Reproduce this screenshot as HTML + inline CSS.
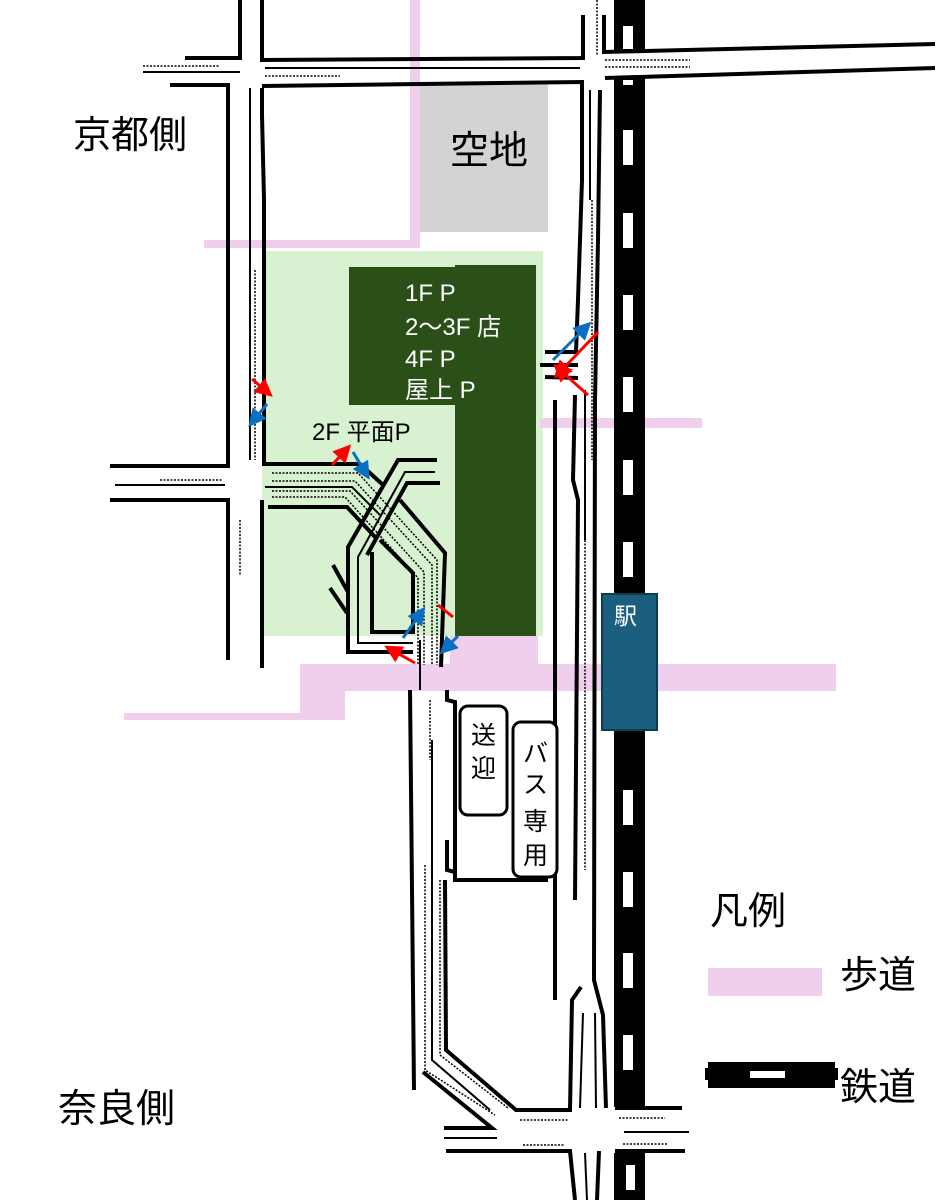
<!DOCTYPE html>
<html><head><meta charset="utf-8"><style>
html,body{margin:0;padding:0;background:#fff;}
svg{display:block}
text{font-family:"Liberation Sans","Noto Sans CJK JP",sans-serif;}
</style></head><body>
<svg width="949" height="1200" viewBox="0 0 949 1200" xmlns="http://www.w3.org/2000/svg">
<defs>
<marker id="ar" markerWidth="6" markerHeight="6" refX="3" refY="3" orient="auto"><path d="M0,0 L6,3 L0,6 z" fill="#f00"/></marker>
<marker id="ab" markerWidth="6" markerHeight="6" refX="3" refY="3" orient="auto"><path d="M0,0 L6,3 L0,6 z" fill="#0a6fc2"/></marker>
</defs>
<rect x="420" y="84" width="128" height="148" fill="#d3d3d3"/>
<text x="450" y="164" font-size="39">空地</text>
<rect x="262" y="251" width="281" height="385" fill="#d8f1d0"/>
<g fill="#f0cfec">
<rect x="410" y="0" width="10" height="248"/>
<rect x="204" y="240" width="216" height="8"/>
<rect x="540" y="418" width="162" height="10"/>
<rect x="300" y="664" width="536" height="27"/>
<rect x="300" y="664" width="45" height="56"/>
<rect x="124" y="713" width="221" height="7"/>
<rect x="450" y="636" width="88" height="30"/>
</g>
<path d="M349,267 L455,267 L455,265 L536,265 L536,636 L455,636 L455,405 L349,405 Z" fill="#2a5018"/>
<g fill="#fff" font-size="24">
<text x="405" y="301">1F P</text>
<text x="405" y="335">2～3F 店</text>
<text x="405" y="367">4F P</text>
<text x="405" y="398">屋上 P</text>
</g>
<text x="312" y="440" font-size="24">2F 平面P</text>
<g fill="#000">
<rect x="614" y="0" width="31" height="50"/>
<rect x="614" y="78" width="31" height="1029"/>
<rect x="614" y="1153" width="31" height="47"/>
</g>
<g fill="#fff">
<rect x="623" y="26" width="10" height="23"/>
<rect x="623" y="80" width="10" height="5"/>
<rect x="623" y="130" width="10" height="35"/>
<rect x="623" y="213" width="10" height="35"/>
<rect x="623" y="295" width="10" height="35"/>
<rect x="623" y="377" width="10" height="35"/>
<rect x="623" y="460" width="10" height="35"/>
<rect x="623" y="542" width="10" height="35"/>
<rect x="623" y="790" width="10" height="35"/>
<rect x="623" y="872" width="10" height="35"/>
<rect x="623" y="953" width="10" height="35"/>
<rect x="623" y="1035" width="10" height="35"/>
<rect x="626" y="1165" width="9" height="25"/>
</g>
<rect x="602" y="594" width="55" height="136" fill="#1a5f80" stroke="#0f3a50" stroke-width="2"/>
<text x="614" y="624" font-size="23" fill="#fff">駅</text>
<g fill="none" stroke="#000" stroke-width="4">
<polyline points="240,0 240,58 185,58"/>
<polyline points="262,0 262,60 583,58 583,15"/>
<polyline points="604,15 604,52 935,44"/>
<polyline points="170,85 228,85 228,466 110,466"/>
<polyline points="262,88 262,115 264,200 264,464 360,464 382,484"/>
<polyline points="262,86 582,82 582,180 578,300 576,352 545,352"/>
<polyline points="605,78 935,68"/>
<polyline points="600,90 598,240 595,400 594,980 603,1015 606,1108"/>
<polyline points="110,500 228,500 228,660"/>
<polyline points="262,500 262,668"/>
<polyline points="268,507 347,507 376,538"/>
<polyline points="400,500 445,553 441,667"/>
<polyline points="437,460 398,460 348,547 348,652 413,652"/>
<polyline points="440,483 407,483 367,555"/>
<polyline points="380,540 413,573 413,632 372,632 372,552"/>
<polyline points="333,565 348,592"/>
<polyline points="330,588 347,613"/>
<polyline points="545,377 578,378"/>
<polyline points="540,365 578,365"/>
<polyline points="575,395 573,480 578,500 575,900"/>
<polyline points="555,400 555,1000"/>
<!-- lower central road -->
<polyline points="410,690 414,1090"/>
<polyline points="447,690 447,700 455,702 455,880 548,880"/>
<polyline points="447,840 447,870 455,872"/>
<polyline points="445,880 446,1050 516,1110 570,1110 572,1000 581,987"/>
<polyline points="423,1072 492,1128 444,1128"/>
<polyline points="446,1151 570,1151 575,1200"/>
<polyline points="615,1108 682,1108"/>
<polyline points="615,1151 685,1151"/>
<polyline points="599,1151 597,1200"/>
</g>
<g fill="none" stroke="#000" stroke-width="2">
<polyline points="115,485 225,485"/>
<polyline points="265,487 352,487 380,515"/>
<polyline points="435,472 405,472 358,557 358,643 413,643"/>
<polyline points="585,390 585,540"/>
<polyline points="590,90 590,200"/>
<polyline points="432,740 432,1060 490,1110"/>
<polyline points="420,640 420,690"/>
<polyline points="583,1013 580,1108"/>
<polyline points="595,1013 596,1108"/>
<polyline points="250,88 250,460"/>
<polyline points="143,72 240,72"/>
<polyline points="265,68 580,68"/>
<polyline points="444,1138 497,1138"/>
<polyline points="624,1132 689,1132"/>
<polyline points="585,1153 587,1200"/>
</g>
<g fill="none" stroke="#000" stroke-width="1.5" stroke-dasharray="2,1.5">
<polyline points="143,66 220,66"/>
<polyline points="265,76 340,76"/>
<polyline points="605,60 690,60"/>
<polyline points="605,67 690,67"/>
<polyline points="597,0 597,55"/>
<polyline points="255,270 255,460"/>
<polyline points="240,520 240,575"/>
<polyline points="160,480 222,480"/>
<polyline points="272,473 358,473 437,560 437,665"/>
<polyline points="272,481 355,481 432,565 432,665"/>
<polyline points="272,491 350,491 424,572 424,665"/>
<polyline points="272,497 345,497 418,578 418,665"/>
<polyline points="430,700 430,760"/>
<polyline points="425,865 425,1070 495,1115"/>
<polyline points="440,880 440,1055 508,1108"/>
<polyline points="592,200 592,460"/>
<polyline points="585,540 585,870"/>
<polyline points="520,1120 568,1120"/>
<polyline points="523,1145 565,1145"/>
<polyline points="619,1118 665,1118"/>
<polyline points="623,1144 668,1144"/>
</g>
<rect x="460" y="706" width="47" height="109" rx="8" fill="#fff" stroke="#000" stroke-width="3"/>
<text x="471" y="744" font-size="25">送</text>
<text x="471" y="777" font-size="25">迎</text>
<rect x="513" y="722" width="44" height="155" rx="8" fill="#fff" stroke="#000" stroke-width="3"/>
<g font-size="25"><text x="523" y="762">バ</text><text x="523" y="793">ス</text><text x="523" y="830">専</text><text x="523" y="864">用</text></g>
<g stroke-width="3" fill="none">
<line x1="252" y1="379" x2="266" y2="391" stroke="#f00" marker-end="url(#ar)"/>
<line x1="267" y1="404" x2="254" y2="420" stroke="#0a6fc2" marker-end="url(#ab)"/>
<line x1="332" y1="465" x2="345" y2="451" stroke="#f00" marker-end="url(#ar)"/>
<line x1="353" y1="452" x2="365" y2="472" stroke="#0a6fc2" marker-end="url(#ab)"/>
<line x1="553" y1="360" x2="585" y2="328" stroke="#0a6fc2" marker-end="url(#ab)"/>
<line x1="598" y1="332" x2="560" y2="372" stroke="#f00" marker-end="url(#ar)"/>
<line x1="588" y1="395" x2="560" y2="370" stroke="#f00" marker-end="url(#ar)"/>
<line x1="403" y1="638" x2="420" y2="614" stroke="#0a6fc2" marker-end="url(#ab)"/>
<line x1="415" y1="663" x2="392" y2="650" stroke="#f00" marker-end="url(#ar)"/>
<line x1="438" y1="605" x2="453" y2="617" stroke="#f00"/>
<line x1="458" y1="636" x2="446" y2="648" stroke="#0a6fc2" marker-end="url(#ab)"/>
</g>
<text x="73" y="148" font-size="38">京都側</text>
<text x="58" y="1122" font-size="39">奈良側</text>
<text x="710" y="924" font-size="38">凡例</text>
<rect x="708" y="968" width="114" height="28" fill="#f0cfec"/>
<text x="840" y="988" font-size="38">歩道</text>
<path d="M708,1062 H835 V1068 H838 V1080 H835 V1088 H708 V1080 H705 V1068 H708 Z" fill="#000"/>
<rect x="750" y="1071" width="35" height="7" fill="#fff"/>
<text x="840" y="1100" font-size="38">鉄道</text>
</svg>
</body></html>
